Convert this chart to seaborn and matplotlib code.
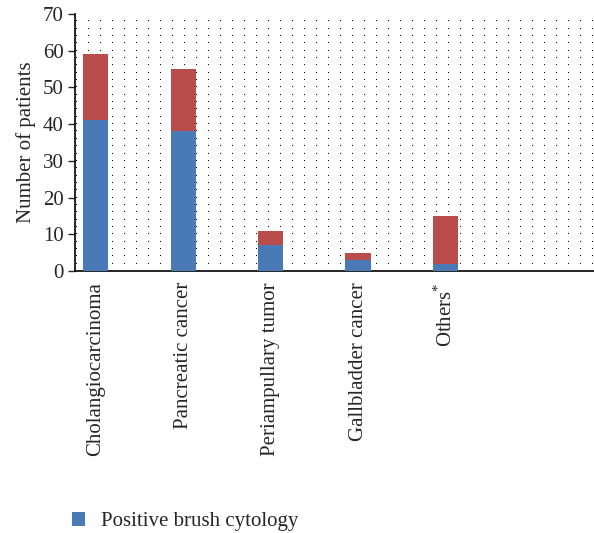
import numpy as np
import pandas as pd
import seaborn as sns
import matplotlib.pyplot as plt
from matplotlib.patches import Patch

# Data
categories = ["Cholangiocarcinoma", "Pancreatic cancer", "Periampullary tumor",
              "Gallbladder cancer", "Others$^{*}$"]
positive = [41, 38, 7, 3, 2]
total = [59, 55, 11, 5, 15]

BLUE = "#4A7AB5"
RED = "#B84D4B"

sns.set_theme(style="white")
plt.rcParams['font.family'] = ['Liberation Serif', 'DejaVu Serif']
plt.rcParams['mathtext.fontset'] = 'custom'
plt.rcParams['mathtext.rm'] = 'Liberation Serif'

df = pd.DataFrame({"category": categories, "positive": positive, "total": total})

fig = plt.figure(figsize=(5.94, 5.33), dpi=100)
ax = fig.add_axes([0.126, 0.4916, 0.874, 0.4821])

# dotted background pattern
xs = np.arange(0.002, 1.0, 12 / 519)
ys = np.arange(2, 71, 2)
gx, gy = np.meshgrid(xs, ys)
ax.plot(gx.ravel(), gy.ravel(), ",", color="black",
        transform=ax.get_yaxis_transform(), zorder=0)

sns.barplot(data=df, x="category", y="total", color=RED, width=0.29,
            saturation=1, linewidth=0, ax=ax, zorder=2)
sns.barplot(data=df, x="category", y="positive", color=BLUE, width=0.29,
            saturation=1, linewidth=0, ax=ax, zorder=3)

ax.set_xlim(-0.24, 5.70)
ax.set_ylim(0, 70)
ax.set_yticks(range(0, 71, 10))
ax.set_xlabel("")
ax.set_ylabel("Number of patients", fontsize=15, labelpad=5)
ax.tick_params(axis="y", labelsize=15, length=5, width=1, direction="out", left=True, pad=3)
ax.tick_params(axis="x", labelsize=15, length=0, pad=8)
ax.set_xticks(range(len(categories)))
ax.set_xticklabels(categories, rotation=90, va="top", ha="center")

for s in ["top", "right"]:
    ax.spines[s].set_visible(False)
for s in ["left", "bottom"]:
    ax.spines[s].set_color("black")
    ax.spines[s].set_linewidth(1.2)

handles = [Patch(facecolor=BLUE, edgecolor="none", label="Positive brush cytology")]
fig.legend(handles=handles, loc="lower left", bbox_to_anchor=(0.09, -0.032), frameon=False,
           fontsize=15, handlelength=0.6, handleheight=0.6, handletextpad=0.8)

fig.savefig("out.png", dpi=100)
